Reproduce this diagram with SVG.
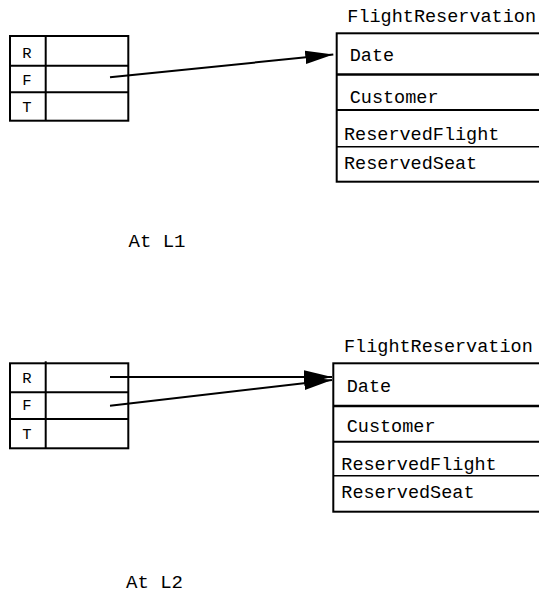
<svg xmlns="http://www.w3.org/2000/svg" width="539" height="594" viewBox="0 0 539 594">
<defs>
<style>
.t{font-family:"Liberation Mono","DejaVu Sans Mono",monospace;font-size:18.5px;fill:#000}
.lbl{font-family:"Liberation Mono","DejaVu Sans Mono",monospace;font-size:15.5px;fill:#000;text-anchor:middle}
.cap{font-family:"Liberation Mono","DejaVu Sans Mono",monospace;font-size:19px;fill:#000}
.box{fill:#fff;stroke:#000;stroke-width:2}
.ln{stroke:#000;stroke-width:2;fill:none}
.conn{stroke:#000;stroke-width:2;fill:none;marker-end:url(#ah)}
</style>
<marker id="ah" markerUnits="userSpaceOnUse" markerWidth="28" markerHeight="14" refX="28" refY="6.7" orient="auto" viewBox="0 0 28 13.4">
<path d="M0,0 L28,6.7 L0,13.4 z" fill="#000"/>
</marker>
</defs>
<rect width="539" height="594" fill="#fff"/>

<g id="table1">
<rect class="box" x="10" y="36" width="118.3" height="84.7"/>
<line class="ln" x1="45.7" y1="36" x2="45.7" y2="120.7"/>
<line class="ln" x1="10" y1="65.7" x2="128.3" y2="65.7"/>
<line class="ln" x1="10" y1="92.3" x2="128.3" y2="92.3"/>
<text class="lbl" x="27" y="58.3">R</text>
<text class="lbl" x="27" y="85">F</text>
<text class="lbl" x="27" y="112.3">T</text>
</g>

<g id="flightReservation1">
<text class="t" x="347.3" y="21.7">FlightReservation</text>
<rect class="box" x="336.7" y="33.3" width="230" height="148.4"/>
<line class="ln" x1="336.7" y1="74.5" x2="560" y2="74.5" style="stroke-width:2.6"/>
<line class="ln" x1="336.7" y1="110" x2="560" y2="110"/>
<line class="ln" x1="336.7" y1="146.7" x2="560" y2="146.7" style="stroke-width:1.6"/>
<text class="t" x="349.7" y="60.7">Date</text>
<text class="t" x="349.7" y="103.3">Customer</text>
<text class="t" x="344" y="140">ReservedFlight</text>
<text class="t" x="344" y="169">ReservedSeat</text>
</g>

<g id="caption1">
<text class="cap" x="128.5" y="246.7">At L1</text>
</g>

<g id="table2">
<rect class="box" x="10" y="363.3" width="118.3" height="85"/>
<line class="ln" x1="45.7" y1="361.3" x2="45.7" y2="448.3"/>
<line class="ln" x1="10" y1="392.3" x2="128.3" y2="392.3"/>
<line class="ln" x1="10" y1="419" x2="128.3" y2="419"/>
<text class="lbl" x="27" y="383.3">R</text>
<text class="lbl" x="27" y="410">F</text>
<text class="lbl" x="27" y="439">T</text>
</g>

<g id="flightReservation2">
<text class="t" x="344" y="351.7">FlightReservation</text>
<rect class="box" x="333.3" y="363.3" width="230" height="148.4"/>
<line class="ln" x1="333.3" y1="406" x2="560" y2="406" style="stroke-width:2.6"/>
<line class="ln" x1="333.3" y1="441.7" x2="560" y2="441.7"/>
<line class="ln" x1="333.3" y1="475.7" x2="560" y2="475.7" style="stroke-width:1.6"/>
<text class="t" x="346.7" y="391.7">Date</text>
<text class="t" x="346.7" y="431.7">Customer</text>
<text class="t" x="341.3" y="470">ReservedFlight</text>
<text class="t" x="341.3" y="498.3">ReservedSeat</text>
</g>

<g id="caption2">
<text class="cap" x="126" y="588">At L2</text>
</g>

<g id="connectors">
<line class="conn" x1="110" y1="77.3" x2="333.3" y2="54.5"/>
<line class="conn" x1="110" y1="377" x2="332" y2="377"/>
<line class="conn" x1="110" y1="405.7" x2="332" y2="380"/>
</g>
</svg>
